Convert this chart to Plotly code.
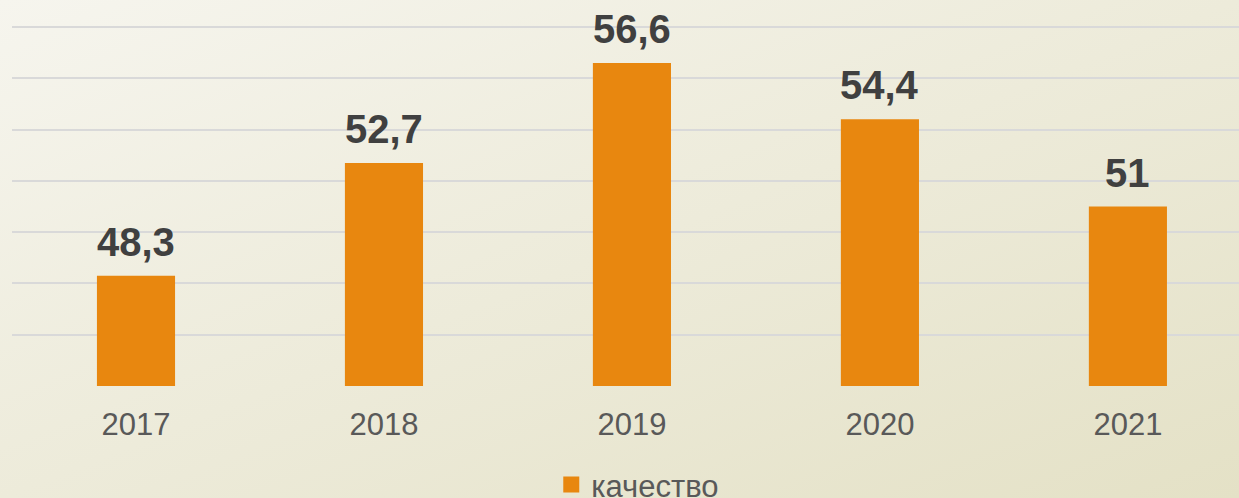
import plotly.graph_objects as go
import urllib.parse

years = ["2017", "2018", "2019", "2020", "2021"]
values = [48.3, 52.7, 56.6, 54.4, 51]
labels = ["48,3", "52,7", "56,6", "54,4", "51"]
series_name = "качество"

BAR = "#E8870F"

svg = ('<svg xmlns="http://www.w3.org/2000/svg" width="1239" height="498" preserveAspectRatio="none">'
       '<defs><linearGradient id="g" x1="0" y1="0" x2="1" y2="1">'
       '<stop offset="0" stop-color="#f6f5ee"/><stop offset="1" stop-color="#e4e1c6"/>'
       '</linearGradient></defs><rect width="1239" height="498" fill="url(#g)"/></svg>')
bg_uri = "data:image/svg+xml;charset=utf-8," + urllib.parse.quote(svg)

fig = go.Figure()
fig.add_trace(go.Bar(x=years, y=values, name=series_name, marker_color=BAR,
                     marker_line_width=0, showlegend=False))
# legend entry (square marker)
fig.add_trace(go.Scatter(x=[None], y=[None], mode="markers", name=series_name,
                         marker=dict(symbol="square", size=16, color=BAR),
                         showlegend=True))

for i, (v, t) in enumerate(zip(values, labels)):
    fig.add_annotation(x=i, y=v, text=f"<b>{t}</b>", showarrow=False,
                       yanchor="bottom", yshift=10,
                       font=dict(family="Arial, Liberation Sans", size=40, color="#404040"))

W, H = 1239, 498
ml, mr, mt, mb = 12, 0, 24, 112
pw, ph = W - ml - mr, H - mt - mb

fig.add_layout_image(dict(source=bg_uri, xref="paper", yref="paper",
                          x=-ml / pw, y=1 + mt / ph, sizex=W / pw, sizey=H / ph,
                          xanchor="left", yanchor="top", sizing="stretch", layer="below"))

fig.update_layout(
    width=W, height=H,
    margin=dict(l=ml, r=mr, t=mt, b=mb, pad=0, autoexpand=False),
    paper_bgcolor="#eeecdc", plot_bgcolor="rgba(0,0,0,0)",
    bargap=0.685,
    font=dict(family="Arial, Liberation Sans", color="#595959"),
    showlegend=True,
    legend=dict(orientation="h", x=0.51, xanchor="center", y=-0.273, yanchor="middle",
                font=dict(size=31, color="#595959"), bgcolor="rgba(0,0,0,0)",
                itemwidth=30),
    xaxis=dict(type="category", range=[-0.5, 4.448], showgrid=False, zeroline=False,
               showline=False, ticks="", tickfont=dict(size=31, color="#595959"),
               ticklabelstandoff=17),
    yaxis=dict(range=[44, 58.12], dtick=2, tick0=44, showticklabels=False, showgrid=True,
               gridcolor="#d9d9d9", gridwidth=2, zeroline=False, showline=False, ticks=""),
)

fig.write_html("out.html", config={"displayModeBar": False},
               post_script="document.body.style.margin='0';document.body.style.overflow='hidden';")
